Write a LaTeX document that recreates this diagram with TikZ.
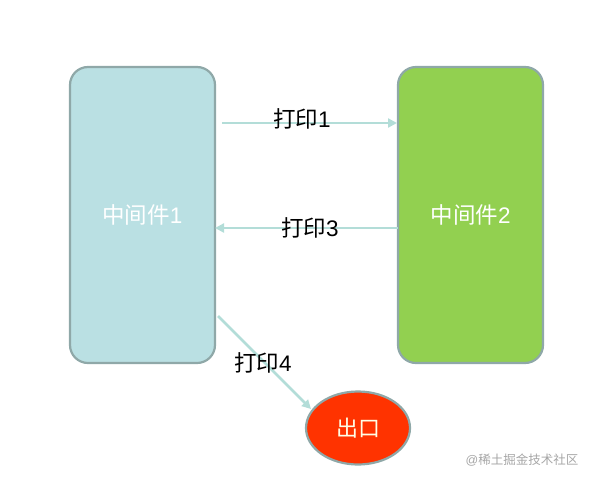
\documentclass[tikz,border=0pt]{standalone}
\usepackage{fontspec}
\setmainfont{Liberation Sans}
\newfontfamily\cjk{Noto Sans CJK SC}
\usetikzlibrary{arrows.meta,shapes.geometric}
\definecolor{boxA}{HTML}{BAE0E3}
\definecolor{boxB}{HTML}{92D050}
\definecolor{outC}{HTML}{FF3300}
\definecolor{edgeC}{HTML}{8FA8A8}
\definecolor{arrC}{HTML}{B3DDD8}
\tikzset{
  midbox/.style={draw=edgeC, line width=2.2pt, rounded corners=18pt, minimum width=145pt, minimum height=296pt, inner sep=0pt, text=white, font=\fontsize{22.5}{26}\selectfont},
  outnode/.style={ellipse, draw=edgeC, line width=2.2pt, fill=outC, minimum width=104pt, minimum height=73pt, inner sep=0pt, text=white!90!yellow, font=\fontsize{22}{26}\selectfont},
  flow/.style={draw=arrC, line width=2.8pt, -{Triangle[length=9pt,width=9pt]}},
  lab/.style={font=\fontsize{22.5}{26}\selectfont, text=black, inner sep=0pt}
}
\begin{document}
\begin{tikzpicture}[x=1pt,y=-1pt]
\useasboundingbox (0,0) rectangle (593,482);
\node[midbox, fill=boxA] (m1) at (142.5,215) {\cjk 中间件\rmfamily 1};
\node[midbox, fill=boxB] (m2) at (470.5,215) {\cjk 中间件\rmfamily 2};
\node[outnode] (out) at (358,428) {\cjk 出口};
\coordinate (a1s) at (222,123);
\coordinate (a1e) at (397,123);
\coordinate (a3s) at (398,228);
\coordinate (a3e) at (215,228);
\coordinate (a4s) at (218,316);
\coordinate (a4e) at (311,409);
\draw[flow] (a1s) -- (a1e);
\draw[flow] (a3s) -- (a3e);
\draw[flow] (a4s) -- (a4e);
\node[lab] (l1) at (302,119) {\cjk 打印\rmfamily 1};
\node[lab] (l3) at (310,228) {\cjk 打印\rmfamily 3};
\node[lab] (l4) at (263,363) {\cjk 打印\rmfamily 4};
\node[font=\fontsize{12.5}{14}\selectfont, text=black!35, inner sep=0pt] (wm) at (522,460) {@\cjk 稀土掘金技术社区};
\end{tikzpicture}
\end{document}
